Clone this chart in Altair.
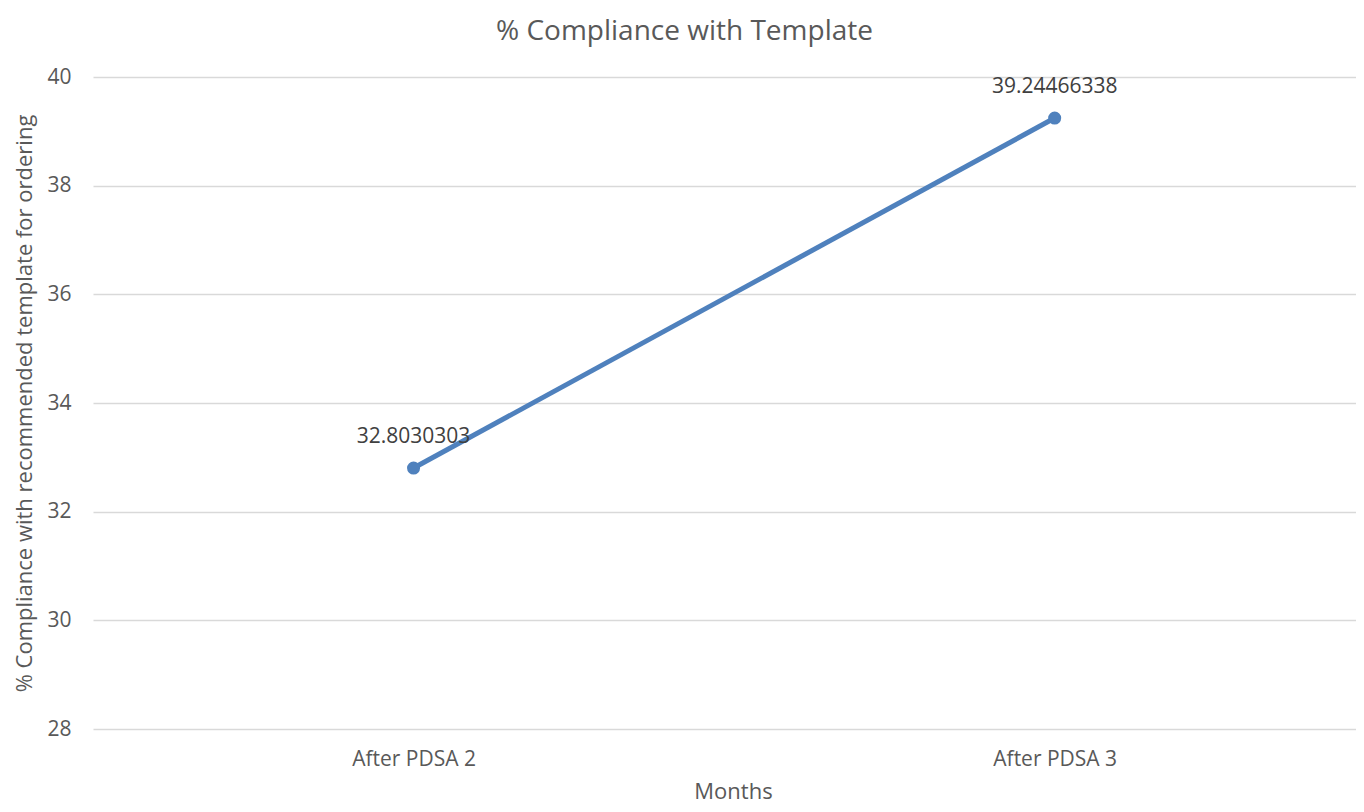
import altair as alt
import pandas as pd

months = ["After PDSA 2", "After PDSA 3"]
compliance = [32.8030303, 39.24466338]
labels = ["32.8030303", "39.24466338"]

df = pd.DataFrame({"idx": list(range(len(months))), "month": months,
                   "value": compliance, "label": labels})

FONT = "Open Sans"
TXT = "#595959"
BLUE = "#4F81BD"

label_expr = " : ".join(
    [f"datum.value == {i} ? '{m}'" for i, m in enumerate(months[:-1])] + [f"'{months[-1]}'"]
)

x = alt.X("idx:Q",
          scale=alt.Scale(domain=[-0.5, 1.47], nice=False, zero=False),
          axis=alt.Axis(title="Months", values=list(range(len(months))),
                        labelExpr=label_expr, labelAngle=0, domain=False, ticks=False,
                        grid=False, labelPadding=19, titlePadding=12,
                        labelFontSize=21, titleFontSize=22, labelColor=TXT,
                        titleColor=TXT, labelFont=FONT, titleFont=FONT,
                        titleFontWeight="normal", titleX=640))
y = alt.Y("value:Q",
          scale=alt.Scale(domain=[28, 40], nice=False, zero=False),
          axis=alt.Axis(title="% Compliance with recommended template for ordering",
                        values=[28, 30, 32, 34, 36, 38, 40], domain=False, ticks=False,
                        gridColor="#D9D9D9", gridWidth=1.3, labelPadding=22,
                        titlePadding=10, labelFontSize=21, titleFontSize=22,
                        labelColor=TXT, titleColor=TXT, labelFont=FONT,
                        titleFont=FONT, titleFontWeight="normal"))

base = alt.Chart(df).encode(x=x, y=y)
line = base.mark_line(color=BLUE, strokeWidth=5)
pts = base.mark_circle(color=BLUE, size=170, opacity=1)
txt = base.mark_text(dy=-31, fontSize=21, font=FONT, color="#404040").encode(text="label:N")

chart = (line + pts + txt).properties(
    width=1263, height=652,
    autosize=alt.AutoSizeParams(type="none"),
    padding={"left": 85, "top": 69, "right": 0, "bottom": 75},
    title=alt.TitleParams("% Compliance with Template", font=FONT, fontSize=28,
                          fontWeight="normal", color=TXT, anchor="middle",
                          offset=20, dx=-40),
).configure_view(stroke=None)

chart.save("out.html", embed_options={"renderer": "svg", "actions": False})
